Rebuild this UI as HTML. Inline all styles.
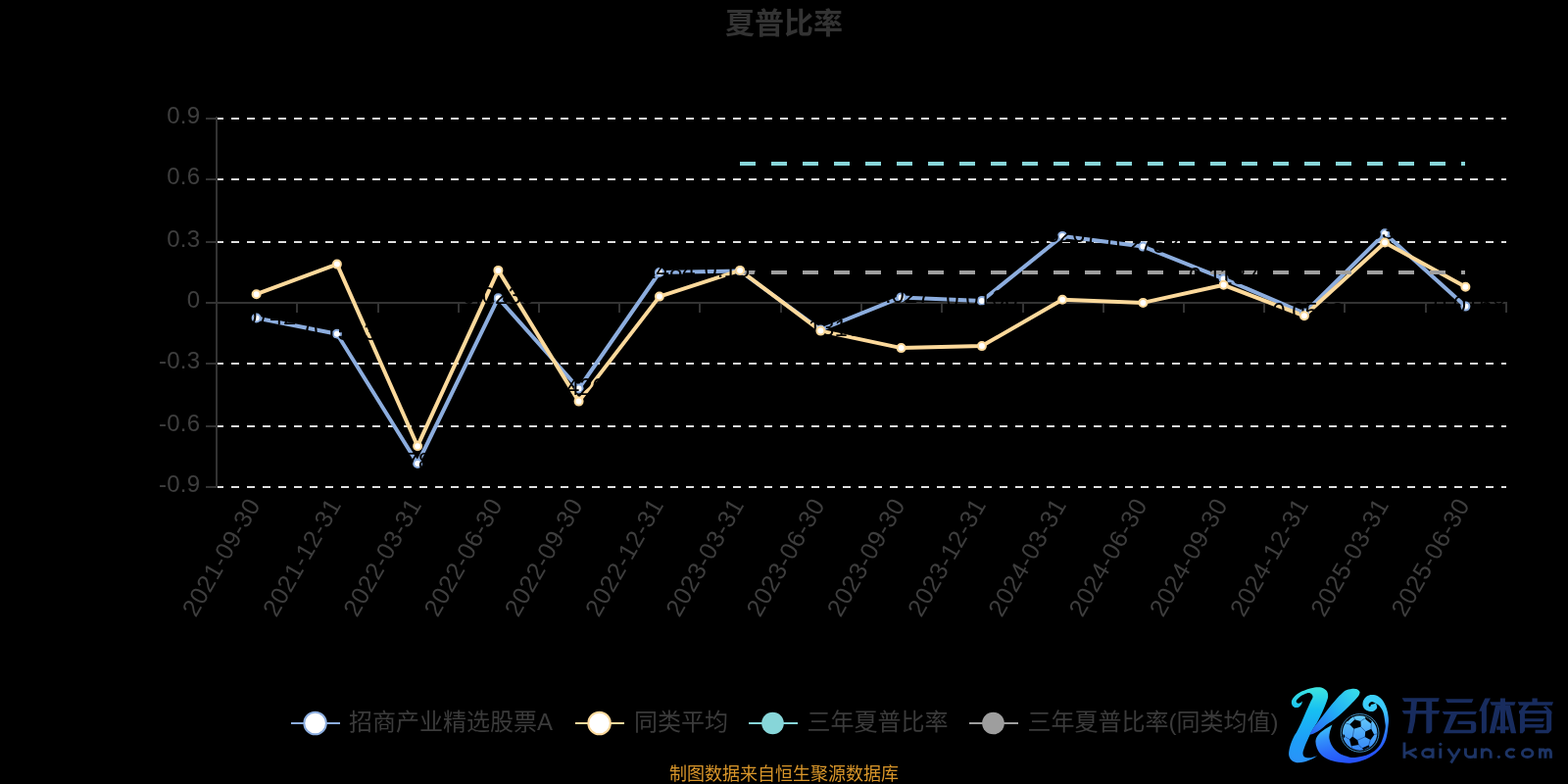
<!DOCTYPE html>
<html lang="zh"><head><meta charset="utf-8"><title>夏普比率</title><style>html,body{margin:0;padding:0;background:#000;}body{width:1600px;height:800px;overflow:hidden;font-family:"Liberation Sans",sans-serif;}</style></head><body>
<svg width="1600" height="800" viewBox="0 0 1600 800" style="display:block;will-change:transform">
<defs><linearGradient id="lg" x1="0" y1="0" x2="0" y2="1"><stop offset="0" stop-color="#35e6ee"/><stop offset="0.4" stop-color="#14b4f5"/><stop offset="1" stop-color="#2a5cf6"/></linearGradient></defs>
<rect width="1600" height="800" fill="#000"/>
<g stroke="#dedede" stroke-width="2" stroke-dasharray="8 8" fill="none">
<path d="M220 121H1537"/>
<path d="M220 183H1537"/>
<path d="M220 247H1537"/>
<path d="M220 371H1537"/>
<path d="M220 435H1537"/>
<path d="M220 497H1537"/>
</g>
<g stroke="#333" stroke-width="2" fill="none">
<path d="M221 119V498"/>
<path d="M220 309H1538"/>
<path d="M210 121H221M210 183H221M210 247H221M210 309H221M210 371H221M210 435H221M210 497H221"/>
<path d="M303 309V319M386 309V319M468 309V319M550 309V319M632 309V319M714 309V319M797 309V319M879 309V319M961 309V319M1044 309V319M1126 309V319M1208 309V319M1290 309V319M1372 309V319M1455 309V319M1537 309V319"/>
</g>
<g font-family="Liberation Sans, sans-serif" font-size="24" fill="#3e3e3e" text-anchor="end" letter-spacing="0.2">
<text x="204.2" y="126">0.9</text>
<text x="204.2" y="188">0.6</text>
<text x="204.2" y="252">0.3</text>
<text x="204.2" y="314">0</text>
<text x="204.2" y="376">-0.3</text>
<text x="204.2" y="440">-0.6</text>
<text x="204.2" y="502">-0.9</text>
</g>
<g font-family="Liberation Sans, sans-serif" font-size="25" fill="#3e3e3e" text-anchor="end" letter-spacing="0.6">
<text transform="translate(266.6 514.8) rotate(-60)">2021-09-30</text>
<text transform="translate(348.9 514.8) rotate(-60)">2021-12-31</text>
<text transform="translate(431.1 514.8) rotate(-60)">2022-03-31</text>
<text transform="translate(513.4 514.8) rotate(-60)">2022-06-30</text>
<text transform="translate(595.6 514.8) rotate(-60)">2022-09-30</text>
<text transform="translate(677.9 514.8) rotate(-60)">2022-12-31</text>
<text transform="translate(760.1 514.8) rotate(-60)">2023-03-31</text>
<text transform="translate(842.4 514.8) rotate(-60)">2023-06-30</text>
<text transform="translate(924.6 514.8) rotate(-60)">2023-09-30</text>
<text transform="translate(1006.9 514.8) rotate(-60)">2023-12-31</text>
<text transform="translate(1089.1 514.8) rotate(-60)">2024-03-31</text>
<text transform="translate(1171.4 514.8) rotate(-60)">2024-06-30</text>
<text transform="translate(1253.6 514.8) rotate(-60)">2024-09-30</text>
<text transform="translate(1335.9 514.8) rotate(-60)">2024-12-31</text>
<text transform="translate(1418.1 514.8) rotate(-60)">2025-03-31</text>
<text transform="translate(1500.4 514.8) rotate(-60)">2025-06-30</text>
</g>
<path d="M261.6 324.5L343.9 340.75L426.1 473L508.4 304.2L590.6 396.5L672.9 278L755.1 276.5L837.4 336.5L919.6 303.4L1001.9 306.9L1084.1 240.9L1166.4 251.6L1248.6 284.4L1330.9 319.5L1413.1 238.2L1495.4 312.6" fill="none" stroke="#8cadde" stroke-width="4" stroke-linejoin="bevel"/>
<path d="M261.6 300.2L343.9 269.6L426.1 455.2L508.4 275.9L590.6 409.6L672.9 302.6L755.1 275.9L837.4 337.6L919.6 355.1L1001.9 353.1L1084.1 305.7L1166.4 308.9L1248.6 290.8L1330.9 322.3L1413.1 247.5L1495.4 292.8" fill="none" stroke="#fcd99b" stroke-width="4" stroke-linejoin="bevel"/>
<path d="M755 167H1495" fill="none" stroke="#87d6d9" stroke-width="4" stroke-dasharray="16 16"/>
<path d="M755 278H1495" fill="none" stroke="#9e9e9e" stroke-width="4" stroke-dasharray="16 16"/>
<g font-family="Liberation Sans, sans-serif" font-size="24" fill="#000" text-anchor="middle">
<circle cx="261.6" cy="324.5" r="4" fill="#fff" stroke="#8cadde" stroke-width="2"/>
<text x="261.6" y="330.5">-0.0742</text>
<circle cx="343.9" cy="340.75" r="4" fill="#fff" stroke="#8cadde" stroke-width="2"/>
<text x="343.9" y="346.75">-0.1523</text>
<circle cx="426.1" cy="473" r="4" fill="#fff" stroke="#8cadde" stroke-width="2"/>
<text x="426.1" y="479">-0.7851</text>
<circle cx="508.4" cy="304.2" r="4" fill="#fff" stroke="#8cadde" stroke-width="2"/>
<text x="508.4" y="310.2">0.0239</text>
<circle cx="590.6" cy="396.5" r="4" fill="#fff" stroke="#8cadde" stroke-width="2"/>
<text x="590.6" y="402.5">-0.4201</text>
<circle cx="672.9" cy="278" r="4" fill="#fff" stroke="#8cadde" stroke-width="2"/>
<text x="672.9" y="284">0.1484</text>
<circle cx="755.1" cy="276.5" r="4" fill="#fff" stroke="#8cadde" stroke-width="2"/>
<text x="755.1" y="282.5">0.1572</text>
<circle cx="837.4" cy="336.5" r="4" fill="#fff" stroke="#8cadde" stroke-width="2"/>
<text x="837.4" y="342.5">-0.1316</text>
<circle cx="919.6" cy="303.4" r="4" fill="#fff" stroke="#8cadde" stroke-width="2"/>
<text x="919.6" y="309.4">0.027</text>
<circle cx="1001.9" cy="306.9" r="4" fill="#fff" stroke="#8cadde" stroke-width="2"/>
<text x="1001.9" y="312.9">0.0108</text>
<circle cx="1084.1" cy="240.9" r="4" fill="#fff" stroke="#8cadde" stroke-width="2"/>
<text x="1084.1" y="246.9">0.3267</text>
<circle cx="1166.4" cy="251.6" r="4" fill="#fff" stroke="#8cadde" stroke-width="2"/>
<text x="1166.4" y="257.6">0.2753</text>
<circle cx="1248.6" cy="284.4" r="4" fill="#fff" stroke="#8cadde" stroke-width="2"/>
<text x="1248.6" y="290.4">0.1187</text>
<circle cx="1330.9" cy="319.5" r="4" fill="#fff" stroke="#8cadde" stroke-width="2"/>
<text x="1330.9" y="325.5">-0.0523</text>
<circle cx="1413.1" cy="238.2" r="4" fill="#fff" stroke="#8cadde" stroke-width="2"/>
<text x="1413.1" y="244.2">0.3399</text>
<circle cx="1495.4" cy="312.6" r="4" fill="#fff" stroke="#8cadde" stroke-width="2"/>
<text x="1495.4" y="318.6">-0.0168</text>
</g>
<g fill="#fff" stroke="#fcd99b" stroke-width="2">
<circle cx="261.6" cy="300.2" r="4"/>
<circle cx="343.9" cy="269.6" r="4"/>
<circle cx="426.1" cy="455.2" r="4"/>
<circle cx="508.4" cy="275.9" r="4"/>
<circle cx="590.6" cy="409.6" r="4"/>
<circle cx="672.9" cy="302.6" r="4"/>
<circle cx="755.1" cy="275.9" r="4"/>
<circle cx="837.4" cy="337.6" r="4"/>
<circle cx="919.6" cy="355.1" r="4"/>
<circle cx="1001.9" cy="353.1" r="4"/>
<circle cx="1084.1" cy="305.7" r="4"/>
<circle cx="1166.4" cy="308.9" r="4"/>
<circle cx="1248.6" cy="290.8" r="4"/>
<circle cx="1330.9" cy="322.3" r="4"/>
<circle cx="1413.1" cy="247.5" r="4"/>
<circle cx="1495.4" cy="292.8" r="4"/>
</g>
<text x="800" y="34" font-family="Liberation Sans, Noto Sans CJK SC, sans-serif" font-size="30" font-weight="bold" fill="#333" text-anchor="middle">夏普比率</text>
<path d="M297 738H347" stroke="#8cadde" stroke-width="2"/>
<circle cx="321.6" cy="738" r="11.3" fill="#fff" stroke="#8cadde" stroke-width="2"/>
<text x="356" y="745.3" font-family="Liberation Sans, Noto Sans CJK SC, sans-serif" font-size="24" fill="#3b3b3b">招商产业精选股票A</text>
<path d="M587 738H637" stroke="#fcd99b" stroke-width="2"/>
<circle cx="611.6" cy="738" r="11.3" fill="#fff" stroke="#fcd99b" stroke-width="2"/>
<text x="647" y="745.3" font-family="Liberation Sans, Noto Sans CJK SC, sans-serif" font-size="24" fill="#3b3b3b">同类平均</text>
<path d="M764 738H814" stroke="#87d6d9" stroke-width="2"/>
<circle cx="788.5" cy="738" r="11.35" fill="#87d6d9"/>
<text x="823.5" y="745.3" font-family="Liberation Sans, Noto Sans CJK SC, sans-serif" font-size="24" fill="#3b3b3b">三年夏普比率</text>
<path d="M989 738H1039" stroke="#9e9e9e" stroke-width="2"/>
<circle cx="1013.5" cy="738" r="11.35" fill="#9e9e9e"/>
<text x="1048.5" y="745.3" font-family="Liberation Sans, Noto Sans CJK SC, sans-serif" font-size="24" fill="#3b3b3b">三年夏普比率(同类均值)</text>
<text x="800" y="795.8" font-family="Liberation Sans, Noto Sans CJK SC, sans-serif" font-size="18" fill="#d9962a" text-anchor="middle">制图数据来自恒生聚源数据库</text>
<defs><linearGradient id="gS" gradientUnits="userSpaceOnUse" x1="0" y1="90" x2="0" y2="705"><stop offset="0" stop-color="#3ee6e0"/><stop offset="0.3" stop-color="#17c0f2"/><stop offset="0.7" stop-color="#1e9ef8"/><stop offset="1" stop-color="#2a92f8"/></linearGradient><linearGradient id="gA" gradientUnits="userSpaceOnUse" x1="660" y1="100" x2="300" y2="480"><stop offset="0" stop-color="#38dcea"/><stop offset="0.45" stop-color="#22b0f4"/><stop offset="1" stop-color="#2c62f6"/></linearGradient><linearGradient id="gL" gradientUnits="userSpaceOnUse" x1="800" y1="200" x2="906" y2="623"><stop offset="0" stop-color="#3ccff9"/><stop offset="0.26" stop-color="#3cc4fa"/><stop offset="0.5" stop-color="#328efa"/><stop offset="0.75" stop-color="#2a6afa"/><stop offset="1" stop-color="#2552fa"/></linearGradient><linearGradient id="gB" gradientUnits="userSpaceOnUse" x1="0" y1="320" x2="0" y2="605"><stop offset="0" stop-color="#66ccfa"/><stop offset="1" stop-color="#3686f6"/></linearGradient></defs>
<g transform="translate(1300 690) scale(0.125)">
<path d="M232 203C230.7 207.5 228.8 222.0 224.0 230.0C219.2 238.0 211.0 246.7 203.0 251.0C195.0 255.3 184.3 257.3 176.0 256.0C167.7 254.7 158.5 249.8 153.0 243.0C147.5 236.2 142.7 225.5 143.0 215.0C143.3 204.5 144.7 193.3 155.0 180.0C165.3 166.7 181.7 148.3 205.0 135.0C228.3 121.7 269.2 107.5 295.0 100.0C320.8 92.5 341.7 90.2 360.0 90.0C378.3 89.8 392.7 93.0 405.0 99.0C417.3 105.0 428.0 115.0 434.0 126.0C440.0 137.0 441.7 151.8 441.0 165.0C440.3 178.2 436.8 185.8 430.0 205.0C423.2 224.2 412.0 253.3 400.0 280.0C388.0 306.7 371.3 340.3 358.0 365.0C344.7 389.7 332.5 405.5 320.0 428.0C307.5 450.5 295.2 473.8 283.0 500.0C270.8 526.2 254.8 563.3 247.0 585.0C239.2 606.7 235.5 617.5 236.0 630.0C236.5 642.5 241.0 654.0 250.0 660.0C259.0 666.0 275.8 666.8 290.0 666.0C304.2 665.2 324.7 657.8 335.0 655.0C345.3 652.2 349.2 650.0 352.0 649.0C344.2 653.8 322.8 669.5 305.0 678.0C287.2 686.5 265.0 695.5 245.0 700.0C225.0 704.5 202.3 707.7 185.0 705.0C167.7 702.3 151.7 694.8 141.0 684.0C130.3 673.2 122.7 658.7 121.0 640.0C119.3 621.3 124.7 595.3 131.0 572.0C137.3 548.7 149.5 520.3 159.0 500.0C168.5 479.7 177.8 469.2 188.0 450.0C198.2 430.8 208.5 410.0 220.0 385.0C231.5 360.0 244.5 328.3 257.0 300.0C269.5 271.7 285.2 236.3 295.0 215.0C304.8 193.7 314.2 183.7 316.0 172.0C317.8 160.3 313.3 150.8 306.0 145.0C298.7 139.2 286.0 134.5 272.0 137.0C258.0 139.5 235.8 151.2 222.0 160.0C208.2 168.8 195.7 181.7 189.0 190.0C182.3 198.3 180.5 204.7 182.0 210.0C183.5 215.3 192.3 221.0 198.0 222.0C203.7 223.0 210.3 219.2 216.0 216.0C221.7 212.8 229.3 205.2 232.0 203.0Z" fill="url(#gS)"/>
<path d="M476 396C464.2 403.3 424.0 426.5 405.0 440.0C386.0 453.5 372.8 462.8 362.0 477.0C351.2 491.2 342.0 507.0 340.0 525.0C338.0 543.0 341.7 565.0 350.0 585.0C358.3 605.0 371.7 628.3 390.0 645.0C408.3 661.7 433.3 675.2 460.0 685.0C486.7 694.8 520.8 700.2 550.0 704.0C579.2 707.8 601.7 712.3 635.0 708.0C668.3 703.7 713.8 694.3 750.0 678.0C786.2 661.7 825.0 636.3 852.0 610.0C879.0 583.7 898.5 555.0 912.0 520.0C925.5 485.0 929.3 430.8 933.0 400.0C936.7 369.2 936.2 357.5 934.0 335.0C931.8 312.5 927.3 287.2 920.0 265.0C912.7 242.8 901.7 218.8 890.0 202.0C878.3 185.2 865.0 172.3 850.0 164.0C835.0 155.7 815.8 151.8 800.0 152.0C784.2 152.2 766.8 157.0 755.0 165.0C743.2 173.0 734.0 187.5 729.0 200.0C724.0 212.5 722.3 228.0 725.0 240.0C727.7 252.0 735.0 264.0 745.0 272.0C755.0 280.0 772.5 286.5 785.0 288.0C797.5 289.5 810.7 286.5 820.0 281.0C829.3 275.5 838.8 264.8 841.0 255.0C843.2 245.2 834.3 227.5 833.0 222.0C837.8 225.5 852.5 231.7 862.0 243.0C871.5 254.3 882.8 269.7 890.0 290.0C897.2 310.3 902.2 340.8 905.0 365.0C907.8 389.2 913.8 402.2 907.0 435.0C900.2 467.8 885.2 528.8 864.0 562.0C842.8 595.2 814.0 617.0 780.0 634.0C746.0 651.0 693.3 661.3 660.0 664.0C626.7 666.7 603.3 657.3 580.0 650.0C556.7 642.7 537.5 633.3 520.0 620.0C502.5 606.7 486.3 588.3 475.0 570.0C463.7 551.7 455.2 529.2 452.0 510.0C448.8 490.8 452.0 474.0 456.0 455.0C460.0 436.0 472.7 405.8 476.0 396.0Z" fill="url(#gL)"/>
<path d="M831 221C826.7 219.0 813.0 210.0 805.0 209.0C797.0 208.0 788.5 210.8 783.0 215.0C777.5 219.2 772.7 228.3 772.0 234.0C771.3 239.7 776.3 247.5 779.0 249.0C781.7 250.5 785.7 245.8 788.0 243.0C790.3 240.2 789.2 234.7 793.0 232.0C796.8 229.3 804.7 228.8 811.0 227.0C817.3 225.2 827.7 222.0 831.0 221.0Z" fill="#000"/>
<path d="M290 478C295.3 468.7 310.0 440.0 322.0 422.0C334.0 404.0 343.7 393.7 362.0 370.0C380.3 346.3 408.0 310.0 432.0 280.0C456.0 250.0 485.5 213.3 506.0 190.0C526.5 166.7 541.8 152.3 555.0 140.0C568.2 127.7 572.2 122.2 585.0 116.0C597.8 109.8 616.2 104.5 632.0 103.0C647.8 101.5 668.5 102.8 680.0 107.0C691.5 111.2 697.5 124.5 701.0 128.0C699.5 132.8 702.2 142.3 692.0 157.0C681.8 171.7 662.8 192.2 640.0 216.0C617.2 239.8 581.7 275.7 555.0 300.0C528.3 324.3 500.8 346.5 480.0 362.0C459.2 377.5 446.7 380.8 430.0 393.0C413.3 405.2 396.3 423.3 380.0 435.0C363.7 446.7 347.0 455.8 332.0 463.0C317.0 470.2 297.0 475.5 290.0 478.0Z" fill="url(#gA)"/>
<circle cx="701" cy="463" r="155" fill="#000" stroke="#56b8f8" stroke-width="6"/>
<circle cx="701" cy="463" r="142" fill="url(#gB)"/>
<path d="M618.6 394.3L658.9 354.0L707.0 367.4L710.4 412.2L652.2 429.0ZM745.6 451.5L793.7 430.2L818.4 478.3L788.1 519.8L742.2 496.3ZM616.1 516.3L640.8 491.7L682.2 521.9L692.3 560.0L630.7 570.1ZM742.0 330.0L770.0 343.0L800.0 368.0L790.0 386.0L748.0 352.0ZM718.0 588.0L774.0 561.0L781.0 577.0L733.0 600.0ZM566.0 470.0L580.0 488.0L572.0 505.0L563.0 490.0ZM640.0 330.0L600.0 370.0L590.0 362.0L625.0 328.0Z" fill="#000"/>
<path d="M660 358L650 325M703 370L742 345M706 410L749 454M654 425L642 496M624 394L585 385M792 435L795 385M814 478L842 470M787 515L775 560M746 494L679 523M688 557L718 588M633 566L640 595M620 518L582 495" stroke="#0c2c6c" stroke-width="4" fill="none"/>
</g>
<g aria-label="开云体育" fill="#182c5e"><path transform="translate(1425 705) scale(0.0625)" d="M90 115 700 115 680 175 125 175ZM90 320 705 320 685 375 120 375ZM240 175 335 175 302 500 258 690 180 690 215 500ZM485 175 580 175 580 650 545 690 485 690ZM800 130 1255 130 1230 190 830 190ZM745 335 1310 335 1290 385 775 385ZM885 385 990 385 872 635 1240 635 1240 690 765 690ZM1000 490 1245 490 1245 545 1000 545ZM1215 490H1235Q1300 490 1300 555V625Q1300 690 1235 690H1215Z"/><path transform="translate(1505 705) scale(0.0625)" d="M165 120 255 120 150 330 65 330ZM110 310 190 240 190 655 155 690 110 690ZM415 120 495 120 495 690 415 690ZM245 180 665 180 645 235 270 235ZM335 240 415 240 415 300 320 690 235 690ZM495 240 575 240 675 690 590 690 495 300ZM355 580 555 580 555 635 355 635ZM935 120 1020 120 1020 180 935 180ZM700 180 1280 180 1260 235 725 235ZM795 235 885 235 815 322 720 345ZM720 320 1238 320 1262 370 720 370ZM1115 265 1165 245 1262 345 1200 345ZM735 370 815 370 815 650 780 690 735 690ZM1170 370 1250 370 1250 640 1200 690 985 690 985 635 1170 635ZM815 450 1135 450 1110 500 815 500ZM815 545 1135 545 1110 600 815 600Z"/></g>
<g aria-label="kaiyun.com"><path d="M1433 757.4V773.7M1433.6 769L1445.4 764.2M1437 767.8L1445.6 773.3M1462.1 763.6V773.7M1462.1 768.65a5.25 3.85 0 1 0 -10.5 0a5.25 3.85 0 1 0 10.5 0M1469.8 763.6V773.7M1477.6 764L1483.9 773M1489.5 764L1480.6 778.6M1495.4 763.6V768.4a5 4.1 0 0 0 10 0V763.6M1505.4 768V773.7M1512.3 763.6V773.7M1512.3 768.9a4.45 4.1 0 0 1 8.9 0V773.7M1545.6 765.9a5 3.85 0 1 0 0 5.5M1563.9 768.65a5.25 3.85 0 1 0 -10.5 0a5.25 3.85 0 1 0 10.5 0M1571.4 763.6V773.7M1571.4 768.6a2.78 3.8 0 0 1 5.55 0V773.7M1576.95 768.6a2.78 3.8 0 0 1 5.55 0V773.7" fill="none" stroke="#1d3465" stroke-width="2.9"/><circle cx="1469.8" cy="759.3" r="1.6" fill="#1d3465"/><circle cx="1529.4" cy="772.3" r="1.6" fill="#1d3465"/></g>
</svg>
</body></html>
